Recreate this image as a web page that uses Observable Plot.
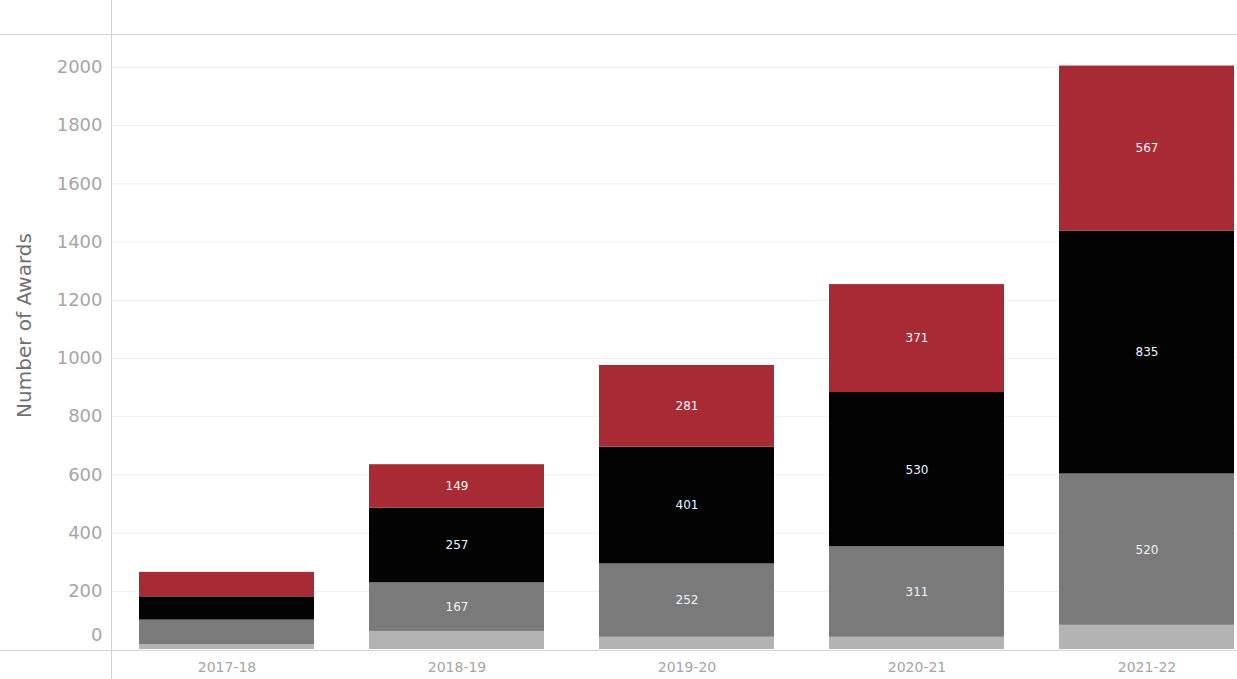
<!DOCTYPE html>
<html>
<head>
<meta charset="utf-8">
<script src="https://cdn.jsdelivr.net/npm/d3@7"></script>
<script src="https://cdn.jsdelivr.net/npm/@observablehq/plot@0.6"></script>
<style>
  html, body { margin: 0; padding: 0; background: #fff; overflow: hidden; }
  #chart svg { display: block; }
</style>
</head>
<body>
<div id="chart"></div>
<script>
// ---- data ----
const years = ["2017-18", "2018-19", "2019-20", "2020-21", "2021-22"];
// segment series, bottom to top
const seriesNames = ["Other", "Category C", "Category B", "Category A"];
const seriesColors = ["#b3b3b3", "#7a7a7a", "#030303", "#a82a34"];
const otherAwards = [17, 62, 42, 42, 83];
const catC = [84, 167, 252, 311, 520];
const catB = [80, 257, 401, 530, 835];
const catA = [84, 149, 281, 371, 567];
// which segments carry a value label
const labelledSeries = ["Category C", "Category B", "Category A"];
const labelledYears = ["2018-19", "2019-20", "2020-21", "2021-22"];
const yTicks = [200, 400, 600, 800, 1000, 1200, 1400, 1600, 1800, 2000];
const yZeroTick = [0];
const yTitle = "Number of Awards";

const seriesValues = [otherAwards, catC, catB, catA];
const rows = [];
years.forEach((yr, i) => {
  seriesNames.forEach((s, j) => {
    rows.push({year: yr, type: s, value: seriesValues[j][i]});
  });
});
const isLabelled = d => labelledSeries.includes(d.type) && labelledYears.includes(d.year);

const font = "'DejaVu Sans', 'Open Sans', sans-serif";
const lineColor = "#d4d4d4";
const tickColor = "#a6a6a6";

const chart = Plot.plot({
  width: 1237,
  height: 679,
  marginLeft: 111,
  marginRight: 0,
  marginTop: 0,
  marginBottom: 29,
  style: {fontFamily: font, background: "#fff"},
  x: {domain: years, range: [110, 1263], paddingInner: 0.24, paddingOuter: 0.12, axis: null},
  y: {domain: [0, 2000], range: [649, 67], axis: null},
  color: {domain: seriesNames, range: seriesColors},
  marks: [
    Plot.gridY(yTicks, {stroke: "#efefef", strokeOpacity: 1}),
    Plot.barY(rows, {x: "year", y: "value", fill: "type", z: "type"}),
    Plot.text(rows, Plot.stackY({
      x: "year", y: "value", z: "type",
      text: d => isLabelled(d) ? String(d.value) : "",
      fill: "#f4f4f4", fontSize: 12
    })),
    Plot.frame({anchor: "left", stroke: lineColor, insetBottom: -29}),
    Plot.frame({anchor: "top", stroke: lineColor, insetTop: 34, insetLeft: -111}),
    Plot.frame({anchor: "bottom", stroke: lineColor, insetLeft: -111}),
    Plot.axisY(yTicks, {anchor: "left", tickSize: 0, tickPadding: 9, fontSize: 18, color: tickColor, label: null, tickFormat: d => String(d)}),
    Plot.axisY(yZeroTick, {anchor: "left", tickSize: 0, tickPadding: 9, fontSize: 18, color: tickColor, label: null, tickFormat: d => String(d), dy: -14}),
    Plot.axisY([], {anchor: "left", tickSize: 0, label: yTitle, labelAnchor: "center", labelOffset: 95, labelArrow: "none", fontSize: 20, color: "#707070"}),
    Plot.axisX(years, {anchor: "bottom", tickSize: 0, tickPadding: 12, fontSize: 14, color: tickColor, label: null})
  ]
});
document.getElementById("chart").appendChild(chart);
</script>
</body>
</html>
